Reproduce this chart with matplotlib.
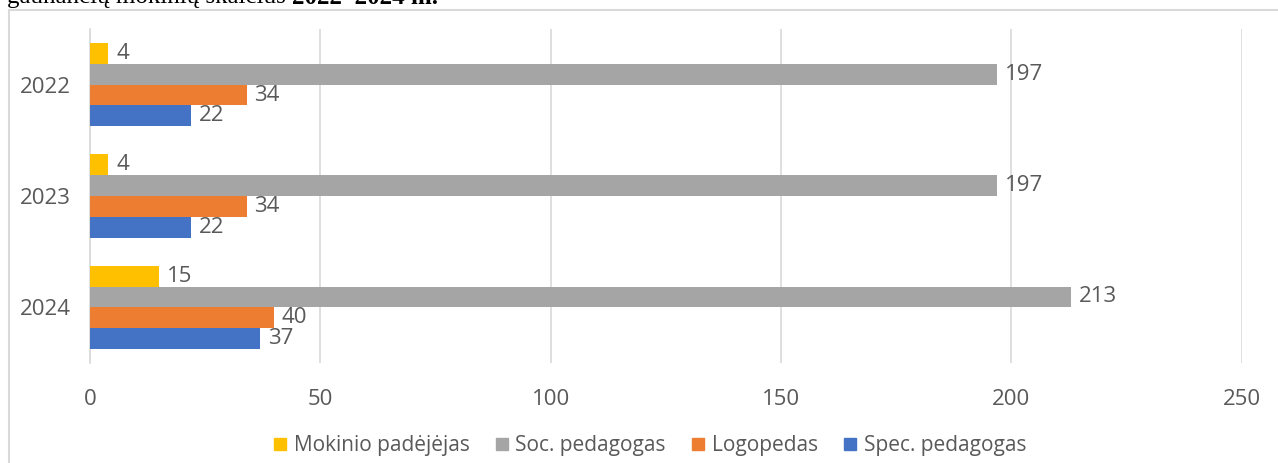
import matplotlib
matplotlib.use("Agg")
import matplotlib.pyplot as plt
from matplotlib.lines import Line2D
from matplotlib.patches import Rectangle
import numpy as np

# ---- data ----
years = ["2022", "2023", "2024"]
series_names = ["Mokinio padėjėjas", "Soc. pedagogas", "Logopedas", "Spec. pedagogas"]
mokinio = [4, 4, 15]
soc = [197, 197, 213]
logopedas = [34, 34, 40]
spec = [22, 22, 37]
x_ticks = [0, 50, 100, 150, 200, 250]
title_regular = "gaunančių mokinių skaičius "
title_bold = "2022–2024 m."

colors = ["#FFC000", "#A5A5A5", "#ED7D31", "#4472C4"]
text_color = "#595959"
grid_color = "#D9D9D9"

W, H = 1278, 463
fig = plt.figure(figsize=(W / 100, H / 100), dpi=100)
plt.rcParams["font.family"] = ["Open Sans", "DejaVu Sans"]

# chart frame (light border, cut off at right/bottom)
frame = Rectangle((9 / W, -0.1), 1.2, (H - 10) / H + 0.1, transform=fig.transFigure,
                  fill=False, edgecolor=grid_color, linewidth=1.5, clip_on=False)
fig.patches.append(frame)

ax = fig.add_axes([90 / W, (H - 363) / H, (1241.5 - 90) / W, (363 - 29) / H])

all_series = [mokinio, soc, logopedas, spec]
pos = np.arange(len(years))
h = 0.187
offsets = [-1.5 * h, -0.5 * h, 0.5 * h, 1.5 * h]
for vals, off, c in zip(all_series, offsets, colors):
    bars = ax.barh(pos + off, vals, height=h, color=c, zorder=3)
    for b, v in zip(bars, vals):
        ax.annotate(str(v), (b.get_width(), b.get_y() + b.get_height() / 2),
                    xytext=(5.5, 0), textcoords="offset points", va="center", ha="left",
                    fontsize=16, color=text_color)

ax.set_xlim(0, 250)
ax.set_ylim(2.5, -0.5)
ax.set_xticks(x_ticks)
ax.set_xticklabels([str(t) for t in x_ticks])
ax.set_yticks(pos)
ax.set_yticklabels(years)
ax.tick_params(axis="both", length=0, labelsize=16, labelcolor=text_color)
ax.tick_params(axis="x", pad=19)
ax.tick_params(axis="y", pad=14)
ax.xaxis.grid(True, color=grid_color, linewidth=1.2, zorder=0)
for s in ["top", "right", "bottom"]:
    ax.spines[s].set_visible(False)
ax.spines["left"].set_color(grid_color)
ax.spines["left"].set_linewidth(1.2)
ax.set_axisbelow(True)

handles = [Line2D([0], [0], marker="s", linestyle="none", markersize=8,
                  markerfacecolor=c, markeredgecolor=c) for c in colors]
fig.legend(handles, series_names, loc="center", bbox_to_anchor=(650 / W, 1 - 446 / H),
           ncol=4, frameon=False, fontsize=15, labelcolor=text_color,
           handlelength=0.6, handletextpad=0.35, columnspacing=1.25)

# cut-off document text at the very top
t1 = fig.text(7 / W, 1 - 3.5 / H, title_regular, family=["Liberation Serif"],
              fontsize=18, color="black", va="baseline", ha="left")
fig.canvas.draw()
bb = t1.get_window_extent(renderer=fig.canvas.get_renderer())
fig.text(bb.x1 / W, 1 - 3.5 / H, title_bold, family=["Liberation Serif"],
         fontsize=18, fontweight="bold", color="black", va="baseline", ha="left")

fig.savefig("out.png", dpi=100)
